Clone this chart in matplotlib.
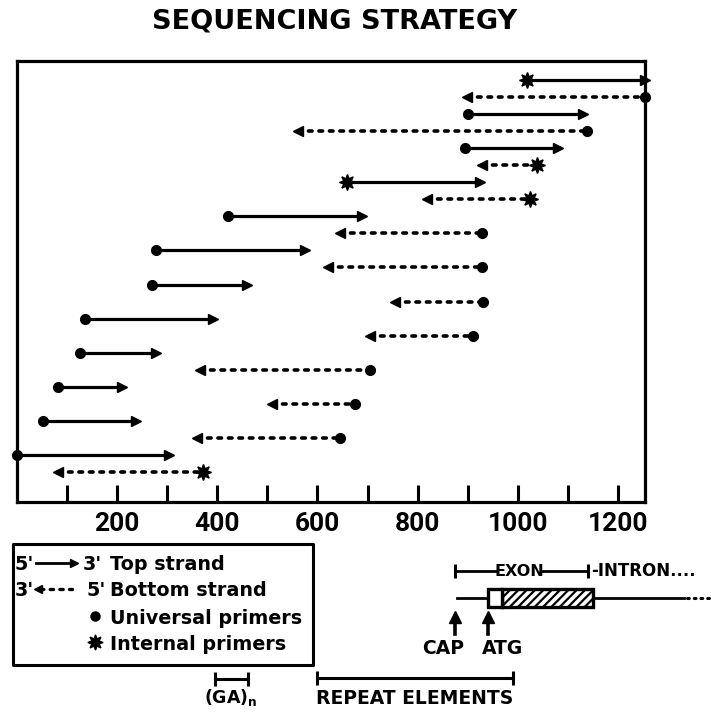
import numpy as np
import matplotlib
matplotlib.use('Agg')
import matplotlib.pyplot as plt
import matplotlib.transforms as mtransforms
from matplotlib.lines import Line2D
from matplotlib.patches import Rectangle
from matplotlib import font_manager

# sequencing reads, top of the chart first (positions in bp)
read_start = [1018, 898, 900, 561, 894, 928, 659, 818, 421, 645, 279, 621,
              271, 754, 136, 705, 126, 365, 82, 509, 52, 359, 0, 82]
read_end = [1253, 1253, 1130, 1138, 1080, 1038, 924, 1024, 689, 928, 575, 928,
            459, 930, 391, 910, 279, 705, 210, 675, 239, 645, 305, 371]
read_strand = ['top', 'bottom', 'top', 'bottom', 'top', 'bottom', 'top', 'bottom',
               'top', 'bottom', 'top', 'bottom', 'top', 'bottom', 'top', 'bottom',
               'top', 'bottom', 'top', 'bottom', 'top', 'bottom', 'top', 'bottom']
read_primer = ['I', 'U', 'U', 'U', 'U', 'I', 'I', 'I', 'U', 'U', 'U', 'U',
               'U', 'U', 'U', 'U', 'U', 'U', 'U', 'U', 'U', 'U', 'U', 'I']

tick_values = list(range(100, 1300, 100))
tick_labels = ['', '200', '', '400', '', '600', '', '800', '', '1000', '', '1200']

legend_labels = ['Top strand', 'Bottom strand', 'Universal primers', 'Internal primers']

# features under the axis (bp)
ga_span = (395, 461)
repeat_span = (599, 990)
cap_pos = 875
atg_pos = 940
utr_end = 968
exon_end = 1140
gene_line_end = 1330
gene_dots = (1337, 1385)

W, H, DPI = 711, 714, 100
BLACK = 'black'

names = {f.name for f in font_manager.fontManager.ttflist}
tick_font = 'Roboto' if 'Roboto' in names else 'DejaVu Sans'

fig = plt.figure(figsize=(W / DPI, H / DPI), dpi=DPI)
ax = fig.add_axes([16.5 / W, 1 - 502 / H, (645 - 16.5) / W, (502 - 61) / H])

primer_marker = {'U': ('o', 7), 'I': ((8, 1, 0), 11.5)}

rows = np.arange(1, len(read_start) + 1)
for y, s, e, strand, primer in zip(rows, read_start, read_end, read_strand, read_primer):
    mk, ms = primer_marker[primer]
    if strand == 'top':
        ax.plot([s, e], [y, y], color=BLACK, lw=2.3, solid_capstyle='butt', clip_on=False)
        ax.plot(e, y, marker='>', ms=7, color=BLACK, clip_on=False)
        ax.plot(s, y, marker=mk, ms=ms, color=BLACK, clip_on=False)
    else:
        ax.plot([s, e], [y, y], color=BLACK, lw=2.6, linestyle=(0, (1.0, 1.9)),
                dash_capstyle='round', clip_on=False)
        ax.plot(s, y, marker='<', ms=7, color=BLACK, clip_on=False)
        ax.plot(e, y, marker=mk, ms=ms, color=BLACK, clip_on=False)

ax.set_xlim(0, 1253)
ax.set_ylim(25.76, -0.115)
ax.set_yticks([])
ax.set_xticks(tick_values)
ax.set_xticklabels(tick_labels, fontfamily=tick_font, fontweight='bold', fontsize=19)
ax.tick_params(axis='x', direction='in', length=12, width=2.2, pad=7)
for sp in ax.spines.values():
    sp.set_linewidth(2.3)

fig.text(335 / W, 1 - 22 / H, 'SEQUENCING STRATEGY', ha='center', va='center',
         fontsize=19.5, fontweight='bold')

# pixel coordinates measured from the top-left corner
px = mtransforms.Affine2D().scale(1 / DPI, -1 / DPI).translate(0, H / DPI) + fig.dpi_scale_trans
bx = mtransforms.blended_transform_factory(ax.transData, px)


def line(xs, ys, trans, **kw):
    fig.add_artist(Line2D(xs, ys, transform=trans, color=BLACK, **kw))


def text(x, y, s, trans, **kw):
    kw.setdefault('fontweight', 'bold')
    fig.text(x, y, s, transform=trans, color=BLACK, **kw)


# legend box
fig.add_artist(Rectangle((13, 544), 300, 121, transform=px, fill=False,
                         lw=2.2, ec=BLACK, joinstyle='round'))
leg_y = [563, 589, 616, 642]
lfs = 13.8
text(15, leg_y[0], "5'", px, fontsize=lfs, va='center_baseline')
line([36, 72], [leg_y[0]] * 2, px, lw=2.0)
line([74], [leg_y[0]], px, marker='>', ms=6, lw=0)
text(83, leg_y[0], "3'", px, fontsize=lfs, va='center_baseline')
text(15, leg_y[1], "3'", px, fontsize=lfs, va='center_baseline')
line([40, 72], [leg_y[1]] * 2, px, lw=2.4, linestyle=(0, (1.0, 1.9)), dash_capstyle='round')
line([38], [leg_y[1]], px, marker='<', ms=6, lw=0)
text(87, leg_y[1], "5'", px, fontsize=lfs, va='center_baseline')
line([95], [leg_y[2]], px, marker='o', ms=6.5, lw=0)
line([95], [leg_y[3]], px, marker=(8, 1, 0), ms=11, lw=0)
for y, lab in zip(leg_y, legend_labels):
    text(110, y, lab, px, fontsize=lfs, va='center_baseline')

# (GA)n and repeat elements
for span, yb in [(ga_span, 679), (repeat_span, 678)]:
    line(list(span), [yb, yb], bx, lw=2.2)
    line(list(span), [yb, yb], bx, lw=0, marker='|', ms=10, mew=2.2)
text(np.mean(ga_span), 698, r'(GA)$_{\mathbf{n}}$', bx, fontsize=12.5, ha='center', va='center')
text(np.mean(repeat_span), 698, 'REPEAT ELEMENTS', bx, fontsize=13.5, ha='center', va='center')

# gene map: exon bracket
ey = 571
line([cap_pos, 958], [ey, ey], bx, lw=2.0)
line([1046, exon_end], [ey, ey], bx, lw=2.0)
line([cap_pos, exon_end], [ey, ey], bx, lw=0, marker='|', ms=10, mew=2.2)
text(1002, ey, 'EXON', bx, fontsize=11.5, ha='center', va='center')
text(exon_end + 6, ey, '-INTRON....', bx, fontsize=12, ha='left', va='center')

# gene line with coding box
gy = 598
line([cap_pos + 3, atg_pos], [gy, gy], bx, lw=2.0)
line([exon_end + 10, gene_line_end], [gy, gy], bx, lw=2.0)
line(list(gene_dots), [gy, gy], bx, lw=2.2, linestyle=(0, (0.6, 1.6)), dash_capstyle='round')
plt.rcParams['hatch.linewidth'] = 1.6
fig.add_artist(Rectangle((utr_end, 589), exon_end + 10 - utr_end, 18, transform=bx,
                         fc='white', ec=BLACK, lw=2.4, hatch='////'))
fig.add_artist(Rectangle((atg_pos, 589), utr_end - atg_pos, 18, transform=bx,
                         fc='white', ec=BLACK, lw=2.4))

# CAP / ATG arrows
for xpos in [cap_pos, atg_pos]:
    line([xpos, xpos], [634, 618], bx, lw=2.6)
    line([xpos], [617], bx, marker='^', ms=8, lw=0)
text(850, 648, 'CAP', bx, fontsize=13.5, ha='center', va='center')
text(968, 648, 'ATG', bx, fontsize=13.5, ha='center', va='center')

fig.savefig('out.png', dpi=DPI)
